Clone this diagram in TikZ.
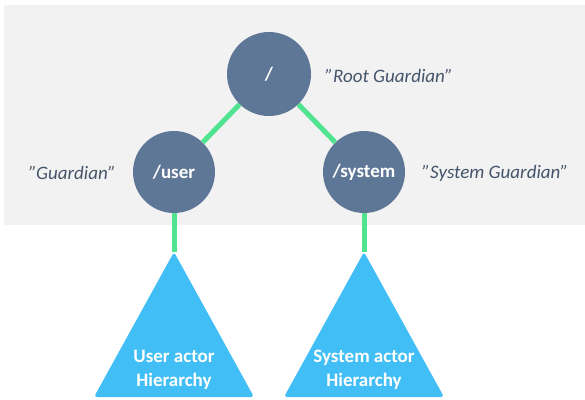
\documentclass[tikz,border=0pt]{standalone}
\usepackage{fontspec}
\setmainfont{Carlito}
\usetikzlibrary{shapes}

\definecolor{panelgrey}{RGB}{242,242,242}
\definecolor{guardianblue}{RGB}{95,119,150}
\definecolor{linkgreen}{RGB}{80,227,144}
\definecolor{hierblue}{RGB}{65,190,245}
\definecolor{labelgrey}{RGB}{68,84,106}

\begin{document}
\begin{tikzpicture}[x = 1pt, y = -1pt, font=\fontsize{19}{24}\selectfont]
	\tikzstyle{guardianStyle}=[shape = circle, minimum size = 84pt, inner sep = 0pt, fill = guardianblue, text = white, font = \fontsize{19}{24}\selectfont\bfseries]
	\tikzstyle{nameStyle}=[inner sep = 0pt, text = labelgrey, font = \fontsize{19}{24}\selectfont\itshape]
	\tikzstyle{linkStyle}=[draw = linkgreen, line width = 5pt]
	\tikzstyle{hierStyle}=[fill = hierblue, rounded corners = 3pt]
	\tikzstyle{hierText}=[align = center, text = white, font = \fontsize{19}{24}\selectfont\bfseries]
	\useasboundingbox (0, 0) rectangle (585, 399);
	\fill[panelgrey] (4, 5) rectangle (585, 225);
	% hierarchies
	\coordinate (ua) at (174, 252);
	\coordinate (sa) at (364, 252);
	\fill[hierStyle] (ua) -- (94, 397) -- (254, 397) -- cycle;
	\fill[hierStyle] (sa) -- (284, 397) -- (444, 397) -- cycle;
	\node[hierText] (ut) at (174, 370) {User actor\\Hierarchy};
	\node[hierText] (st) at (364, 370) {System actor\\Hierarchy};
	% guardians
	\node[guardianStyle] (root) at (269, 74) {/};
	\node[guardianStyle, minimum size = 82pt] (user) at (174, 172) {/user};
	\node[guardianStyle, minimum size = 82pt] (system) at (364, 172) {/system};
	\draw[linkStyle] (root) -- (user);
	\draw[linkStyle] (root) -- (system);
	\draw[linkStyle] (user) -- (ua);
	\draw[linkStyle] (system) -- (sa);
	\node[nameStyle, anchor = west] (rootname) at (325, 76) {”Root Guardian”};
	\node[nameStyle, anchor = east] (username) at (116, 173) {”Guardian”};
	\node[nameStyle, anchor = west] (systemname) at (422, 173) {”System Guardian”};
\end{tikzpicture}
\end{document}
